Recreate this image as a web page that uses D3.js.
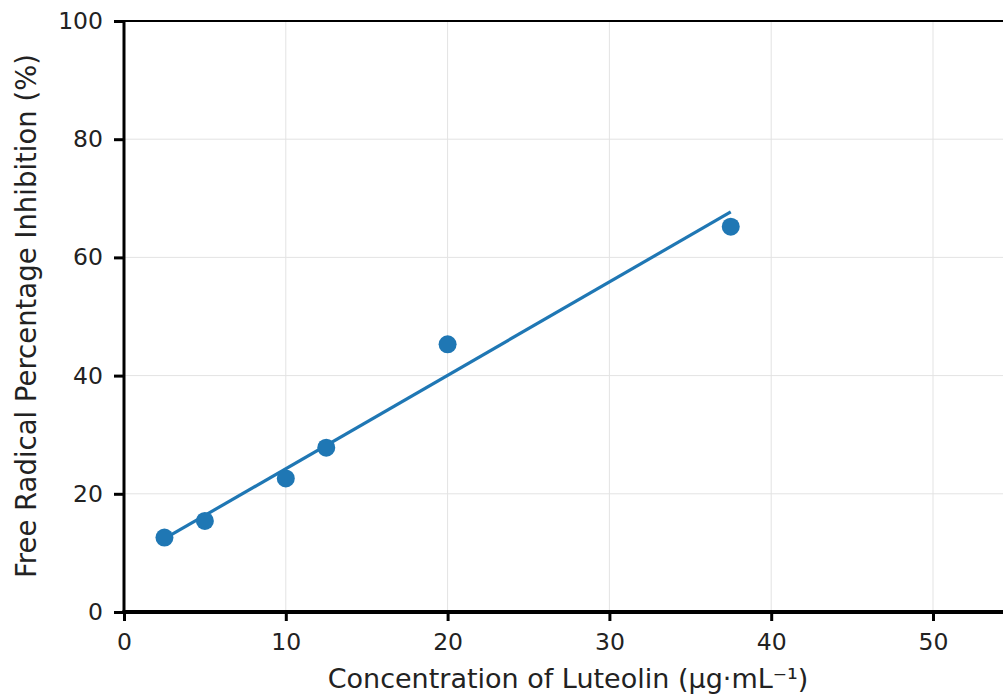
<!DOCTYPE html>
<html><head><meta charset="utf-8">
<script src="https://cdn.jsdelivr.net/npm/d3@7"></script>
<style>body{margin:0;background:#fff}svg{display:block}text{font-family:"DejaVu Sans",sans-serif;fill:#222}</style>
</head><body><svg id="c" width="1003" height="696"></svg>
<script>
const concentrations = [2.5, 5, 10, 12.5, 20, 37.5];
const inhibition = [12.6, 15.4, 22.6, 27.8, 45.3, 65.2];
const fitX = [2.5, 37.5];
const fitY = [12.4, 67.7];
const xTicks = [0, 10, 20, 30, 40, 50];
const yTicks = [0, 20, 40, 60, 80, 100];

const svg = d3.select('#c');
const x = d3.scaleLinear().domain([0, 55]).range([124, 124 + 55 * 16.18]);
const y = d3.scaleLinear().domain([0, 100]).range([612, 21]);
const color = '#1f77b4';

// grid
svg.append('g').selectAll('line').data(xTicks.slice(1)).join('line')
  .attr('x1', d => x(d)).attr('x2', d => x(d)).attr('y1', y(0)).attr('y2', y(100))
  .attr('stroke', '#e3e3e3').attr('stroke-width', 1);
svg.append('g').selectAll('line').data(yTicks.slice(1, -1)).join('line')
  .attr('x1', x(0)).attr('x2', 1003).attr('y1', d => y(d)).attr('y2', d => y(d))
  .attr('stroke', '#e3e3e3').attr('stroke-width', 1);

// spines
svg.append('line').attr('x1', x(0)).attr('x2', 1003).attr('y1', y(100)).attr('y2', y(100)).attr('stroke', '#000').attr('stroke-width', 2);

const xAxis = svg.append('g').attr('transform', `translate(0,${y(0)})`)
  .call(d3.axisBottom(x).tickValues(xTicks).tickSize(9).tickPadding(12).tickFormat(d3.format('d')));
xAxis.select('.domain').remove();
xAxis.selectAll('.tick line').attr('stroke', '#000').attr('stroke-width', 3);
xAxis.selectAll('.tick text').attr('font-size', 23.5).attr('fill', '#222').attr('font-family', 'DejaVu Sans');

const yAxis = svg.append('g').attr('transform', `translate(${x(0)},0)`)
  .call(d3.axisLeft(y).tickValues(yTicks).tickSize(10).tickPadding(11).tickFormat(d3.format('d')));
yAxis.select('.domain').remove();
yAxis.selectAll('.tick line').attr('stroke', '#000').attr('stroke-width', 3);
yAxis.selectAll('.tick text').attr('font-size', 23.5).attr('fill', '#222').attr('font-family', 'DejaVu Sans');

svg.append('line').attr('x1', x(0)).attr('x2', x(0)).attr('y1', y(100) - 1).attr('y2', y(0) + 2).attr('stroke', '#000').attr('stroke-width', 3);
svg.append('line').attr('x1', x(0) - 1.5).attr('x2', 1003).attr('y1', y(0)).attr('y2', y(0)).attr('stroke', '#000').attr('stroke-width', 4);

// fit line
svg.append('path').datum(fitX.map((d, i) => [d, fitY[i]]))
  .attr('d', d3.line().x(d => x(d[0])).y(d => y(d[1])))
  .attr('stroke', color).attr('stroke-width', 3.2).attr('fill', 'none');

// points
svg.append('g').selectAll('circle').data(concentrations).join('circle')
  .attr('cx', d => x(d)).attr('cy', (d, i) => y(inhibition[i])).attr('r', 9).attr('fill', color);

// labels
svg.append('text').attr('x', 568).attr('y', 688).attr('text-anchor', 'middle').attr('font-size', 27)
  .text('Concentration of Luteolin (μg·mL⁻¹)');
svg.append('text').attr('transform', 'translate(36,316) rotate(-90)').attr('text-anchor', 'middle').attr('font-size', 27.5)
  .text('Free Radical Percentage Inhibition (%)');
</script></body></html>
